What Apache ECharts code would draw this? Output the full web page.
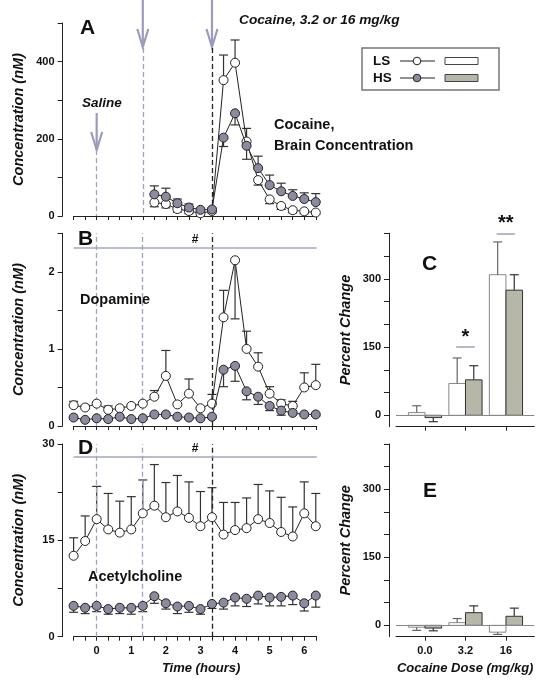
<!DOCTYPE html>
<html><head><meta charset="utf-8">
<script src="https://cdn.jsdelivr.net/npm/echarts@6/dist/echarts.min.js"></script>
<style>html,body{margin:0;padding:0;background:#fff}#c{width:547px;height:691px}</style>
</head><body><div id="c"></div>
<script>
// ---------- data ----------
const times = [-0.667,-0.333,0,0.333,0.667,1,1.333,1.667,2,2.333,2.667,3,3.333,3.667,4,4.333,4.667,5,5.333,5.667,6,6.333];
const timeLabels = [0,1,2,3,4,5,6];
const eventTimes = [0, 1.333, 3.333];

// Panel A: cocaine brain concentration (nM)
const cocLS    = [null,null,null,null,null,null,null,35,31,18,13,7,13,352,397,193,93,43,26,15,12,9];
const cocLSerr = [null,null,null,null,null,null,null,24,21,10,6,2,8,417,456,227,80,32,17,8,6,5];
const cocHS    = [null,null,null,null,null,null,null,56,50,33,22,16,17,203,266,182,124,80,64,52,44,36];
const cocHSerr = [null,null,null,null,null,null,null,78,72,44,31,20,21,180,236,147,155,106,85,68,60,58];

// Panel B: dopamine (nM)
const daLS    = [0.27,0.24,0.29,0.21,0.23,0.26,0.29,0.38,0.65,0.28,0.42,0.23,0.29,1.41,2.15,1.00,0.77,0.42,0.29,0.26,0.50,0.53];
const daLSerr = [0.32,0.27,0.31,0.26,0.25,0.28,0.31,0.46,0.98,0.30,0.61,0.25,0.41,1.76,1.39,1.23,0.95,0.51,0.34,0.32,0.69,0.80];
const daHS    = [0.11,0.08,0.10,0.09,0.12,0.09,0.10,0.15,0.15,0.12,0.11,0.10,0.12,0.73,0.78,0.45,0.38,0.26,0.20,0.17,0.15,0.15];
const daHSerr = [0.09,0.07,0.08,0.08,0.10,0.08,0.09,0.13,0.13,0.10,0.09,0.09,0.10,0.51,0.58,0.34,0.28,0.20,0.14,0.15,0.13,0.13];
const daSigLevel = 2.31;

// Panel D: acetylcholine (nM)
const achLS    = [12.6,14.9,18.3,16.7,16.2,16.7,19.2,20.4,18.6,19.5,18.5,17.2,18.6,15.9,16.6,16.9,18.3,17.7,16.3,15.6,19.2,17.2];
const achLSerr = [15.4,18.8,23.4,22.3,21.1,21.8,24.4,26.8,24.0,25.1,24.1,22.6,23.2,20.9,20.9,21.6,23.7,22.7,21.7,20.2,24.1,22.3];
const achHS    = [4.8,4.5,4.8,4.3,4.5,4.5,4.8,6.3,5.2,4.7,4.8,4.3,5.1,5.3,6.1,5.9,6.4,6.1,6.2,6.4,5.2,6.4];
const achHSerr = [3.8,3.6,3.9,3.5,3.6,3.5,3.9,5.2,4.3,3.6,3.8,3.5,4.4,4.3,4.8,4.7,5.1,4.8,4.8,5.0,4.0,4.6];
const achSigLevel = 28;

// Panels C and E: percent change by cocaine dose
const doseLabels = ['0.0','3.2','16'];
const pctDA_LS     = [6,70,309];
const pctDA_LSerr  = [21,126,381];
const pctDA_HS     = [-5,78,275];
const pctDA_HSerr  = [-14,109,309];
const pctACh_LS    = [-4,6,-15];
const pctACh_LSerr = [-11,15,-20];
const pctACh_HS    = [-6,28,20];
const pctACh_HSerr = [-12,43,38];

const concTicksA = [0,200,400];
const concTicksB = [0,1,2];
const concTicksD = [0,15,30];
const pctTickMarks = [0,50,100,150,200,250,300,350,400];
const pctTickLabels = [0,150,300];

// ---------- helpers ----------
const FONT = 'Arial, "Liberation Sans", sans-serif';
const LS_COLOR = '#ffffff', HS_COLOR = '#8b8ba0', BAR_HS = '#b6b6a9';
const GRAYDASH = '#a3a3bb', SIGLINE = '#a0a8ba', ARROW = '#9b9bbb';

function pts(xs, ys){ const o=[]; for(let i=0;i<xs.length;i++){ if(ys[i]!=null) o.push([xs[i], ys[i]]);} return o; }
function errPts(xs, ys, es){ const o=[]; for(let i=0;i<xs.length;i++){ if(ys[i]!=null) o.push([xs[i], ys[i], es[i]]);} return o; }

function errRender(color, off){
  return function(params, api){
    const x = api.value(0) + (off||0), y = api.value(1), e = api.value(2);
    const p0 = api.coord([x, y]), p1 = api.coord([x, e]);
    const hw = 4.5;
    return {type:'group', children:[
      {type:'line', shape:{x1:p0[0],y1:p0[1],x2:p1[0],y2:p1[1]}, style:{stroke:color, lineWidth:1.2}},
      {type:'line', shape:{x1:p1[0]-hw,y1:p1[1],x2:p1[0]+hw,y2:p1[1]}, style:{stroke:color, lineWidth:1.2}}
    ]};
  };
}
function barRender(off, fill, stroke){
  return function(params, api){
    const i = api.value(0), v = api.value(1);
    const a = api.coord([i+off-0.205, 0]), b = api.coord([i+off+0.205, v]);
    return {type:'rect', shape:{x:a[0], y:Math.min(a[1],b[1]), width:b[0]-a[0], height:Math.max(1,Math.abs(b[1]-a[1]))},
            style:{fill:fill, stroke:stroke, lineWidth:1}};
  };
}
function lineSeries(name, xi, yi, data, fill, extra){
  return Object.assign({
    type:'line', name:name, xAxisIndex:xi, yAxisIndex:yi, data:data,
    symbol:'circle', symbolSize:9, showSymbol:true,
    lineStyle:{color:'#222', width:1},
    itemStyle:{color:fill, borderColor:'#222', borderWidth:1},
    animation:false, silent:true, clip:false, z:5
  }, extra||{});
}
function errSeries(xi, yi, data, color, off){
  return {type:'custom', xAxisIndex:xi, yAxisIndex:yi, data:data, renderItem:errRender(color, off),
          encode:{x:0, y:[1,2]}, animation:false, silent:true, clip:false, z:3};
}
function vline(x, color){
  return {xAxis:x, lineStyle:{color:color, type:[5,3], width:1.3}};
}
function vseg(x, y0, y1, color){
  return [{coord:[x,y0], lineStyle:{color:color, type:[5,3], width:1.3}}, {coord:[x,y1]}];
}
function hsig(x0, x1, y, text, size, dist){
  return [{coord:[x0,y], lineStyle:{color:SIGLINE, type:'solid', width:1.6},
           label:{show:true, formatter:text, position:'middle', distance:dist, fontSize:size, fontWeight:'bold', color:'#111', fontFamily:FONT}},
          {coord:[x1,y]}];
}
const NAME_STYLE = {fontSize:14.5, fontWeight:'bold', fontStyle:'italic', color:'#111', fontFamily:FONT};
const thirds = times;
function timeAxis(gi, showLabels){
  return {type:'value', gridIndex:gi, min:-0.667, max:6.36,
    axisLine:{show:true, onZero:false, lineStyle:{color:'#222', width:1}},
    axisTick:{show:true, customValues:thirds, length:4, inside:false, lineStyle:{color:'#222'}},
    axisLabel:{show:showLabels, customValues:timeLabels, margin:9, fontSize:11, fontWeight:'bold', color:'#111', fontFamily:FONT},
    splitLine:{show:false},
    name: showLabels ? 'Time (hours)' : '', nameLocation:'middle', nameGap:25,
    nameTextStyle:{fontSize:13, fontWeight:'bold', fontStyle:'italic', color:'#111', fontFamily:FONT, padding:[0,0,0,12]}
  };
}
function concAxis(gi, max, interval, labels){
  return {type:'value', gridIndex:gi, min:0, max:max, interval:interval, offset:11,
    axisLine:{show:true, onZero:false, lineStyle:{color:'#222', width:1}},
    axisTick:{show:true, length:5, lineStyle:{color:'#222'}},
    axisLabel:{margin:8, fontSize:11, fontWeight:'bold', color:'#111', fontFamily:FONT,
      formatter:function(v){ return labels.some(function(l){return Math.abs(l-v)<1e-6;}) ? String(v) : ''; }},
    splitLine:{show:false},
    name:'Concentration (nM)', nameLocation:'middle', nameGap:36,
    nameTextStyle:NAME_STYLE
  };
}
function doseAxis(gi, showLabels){
  return {type:'value', gridIndex:gi, min:-0.716, max:2.70,
    axisLine:{show:true, onZero:false, lineStyle:{color:'#222', width:1}},
    axisTick:{show:true, customValues:[0,1,2], length:4, lineStyle:{color:'#222'}},
    axisLabel:{show:showLabels, customValues:[0,1,2], margin:9, fontSize:11, fontWeight:'bold', color:'#111', fontFamily:FONT,
      formatter:function(v){ return doseLabels[Math.round(v)]; }},
    splitLine:{show:false},
    name: showLabels ? 'Cocaine Dose (mg/kg)' : '', nameLocation:'middle', nameGap:25,
    nameTextStyle:{fontSize:13, fontWeight:'bold', fontStyle:'italic', color:'#111', fontFamily:FONT}
  };
}
function pctAxis(gi){
  return {type:'value', gridIndex:gi, min:-25, max:400, offset:7,
    axisLine:{show:true, onZero:false, lineStyle:{color:'#222', width:1}},
    axisTick:{show:true, customValues:pctTickMarks, length:5, lineStyle:{color:'#222'}},
    axisLabel:{customValues:pctTickLabels, margin:8, fontSize:11, fontWeight:'bold', color:'#111', fontFamily:FONT},
    splitLine:{show:false},
    name:'Percent Change', nameLocation:'middle', nameGap:36,
    nameTextStyle:NAME_STYLE
  };
}
function barSeries(xi, yi, vals, off, fill, stroke, extra){
  return Object.assign({type:'custom', xAxisIndex:xi, yAxisIndex:yi,
    data: vals.map(function(v,i){return [i, v];}), renderItem:barRender(off, fill, stroke),
    encode:{x:0, y:1}, animation:false, silent:true, z:2}, extra||{});
}
function barErr(xi, yi, vals, errs, off, color){
  return errSeries(xi, yi, vals.map(function(v,i){return [i, v, errs[i]];}), color, off);
}
const zeroLine = {silent:true, symbol:'none', animation:false, label:{show:false},
  data:[{yAxis:0, lineStyle:{color:'#888', type:'solid', width:1.2}}]};

const option = {
  backgroundColor:'#fff',
  animation:false,
  grid:[
    {left:73.6, top:23,    width:243.1, height:193},
    {left:73.6, top:233.3, width:243.1, height:192.7},
    {left:73.6, top:444,   width:243.1, height:192.7},
    {left:396,  top:233.3, width:138.3, height:193.4},
    {left:396,  top:444,   width:138.3, height:192.7}
  ],
  xAxis:[ timeAxis(0,false), timeAxis(1,false), timeAxis(2,true), doseAxis(3,false), doseAxis(4,true) ],
  yAxis:[ concAxis(0,500,100,concTicksA), concAxis(1,2.5,0.5,concTicksB), concAxis(2,30,7.5,concTicksD), pctAxis(3), pctAxis(4) ],
  series:[
    // Panel A
    errSeries(0,0, errPts(times,cocLS,cocLSerr), '#333'),
    errSeries(0,0, errPts(times,cocHS,cocHSerr), '#333'),
    lineSeries('LS',0,0, pts(times,cocLS), LS_COLOR, {markLine:{silent:true, symbol:'none', animation:false, label:{show:false},
      data:[ vseg(eventTimes[0],171,0,GRAYDASH), vseg(eventTimes[1],435,0,GRAYDASH), vseg(eventTimes[2],435,0,'#222') ]}}),
    lineSeries('HS',0,0, pts(times,cocHS), HS_COLOR, {z:6}),
    // Panel B
    errSeries(1,1, errPts(times,daLS,daLSerr), '#333'),
    errSeries(1,1, errPts(times,daHS,daHSerr), '#333'),
    lineSeries('LS',1,1, pts(times,daLS), LS_COLOR, {markLine:{silent:true, symbol:'none', animation:false, label:{show:false},
      data:[ vline(eventTimes[0],GRAYDASH), vline(eventTimes[1],GRAYDASH), vline(eventTimes[2],'#222'),
             hsig(-0.667, 6.36, daSigLevel, '#', 12, 2) ]}}),
    lineSeries('HS',1,1, pts(times,daHS), HS_COLOR, {z:6}),
    // Panel D
    errSeries(2,2, errPts(times,achLS,achLSerr), '#333'),
    errSeries(2,2, errPts(times,achHS,achHSerr), '#333'),
    lineSeries('LS',2,2, pts(times,achLS), LS_COLOR, {markLine:{silent:true, symbol:'none', animation:false, label:{show:false},
      data:[ vline(eventTimes[0],GRAYDASH), vline(eventTimes[1],GRAYDASH), vline(eventTimes[2],'#222'),
             hsig(-0.667, 6.36, achSigLevel, '#', 12, 2) ]}}),
    lineSeries('HS',2,2, pts(times,achHS), HS_COLOR, {z:6}),
    // Panel C
    barSeries(3,3, pctDA_LS, -0.205, '#ffffff', '#888'),
    barSeries(3,3, pctDA_HS, 0.205, BAR_HS, '#333', {markLine:{silent:true, symbol:'none', animation:false,
      data:[ {yAxis:0, lineStyle:{color:'#888', type:'solid', width:1.2}, label:{show:false}},
             hsig(0.77, 1.23, 150, '*', 20, 0), hsig(1.77, 2.22, 400, '**', 20, 0) ]}}),
    barErr(3,3, pctDA_LS, pctDA_LSerr, -0.205, '#666'),
    barErr(3,3, pctDA_HS, pctDA_HSerr, 0.205, '#333'),
    // Panel E
    barSeries(4,4, pctACh_LS, -0.205, '#ffffff', '#888'),
    barSeries(4,4, pctACh_HS, 0.205, BAR_HS, '#333', {markLine:zeroLine}),
    barErr(4,4, pctACh_LS, pctACh_LSerr, -0.205, '#666'),
    barErr(4,4, pctACh_HS, pctACh_HSerr, 0.205, '#333')
  ]
};

const chart = echarts.init(document.getElementById('c'), null, {renderer:'canvas', width:547, height:691});
chart.setOption(option);

// ---------- annotations ----------
function px(gi, x, y){ return chart.convertToPixel({gridIndex:gi}, [x, y]); }
function txt(x, y, s, font, align){
  return {type:'text', x:x, y:y, silent:true, z:10,
    style:{text:s, font:font, fill:'#111', textAlign:align||'left', textVerticalAlign:'middle'}};
}
function arrow(x, y0, y1){
  return {type:'group', silent:true, z:10, children:[
    {type:'line', shape:{x1:x,y1:y0,x2:x,y2:y1}, style:{stroke:ARROW, lineWidth:2.2}},
    {type:'polyline', shape:{points:[[x-5.5,y1-18],[x,y1],[x+5.5,y1-18]]}, style:{stroke:ARROW, lineWidth:2.2, fill:null}}
  ]};
}
const BIG = 'bold 21px ' + FONT, MID = 'bold 14.5px ' + FONT, LEG = 'bold 13.5px ' + FONT, MIDI = 'italic bold 13.7px ' + FONT;
const xs0 = px(0, eventTimes[0], 0)[0], xs1 = px(0, eventTimes[1], 0)[0], xs2 = px(0, eventTimes[2], 0)[0];
const gfx = [
  txt(80, 28, 'A', BIG), txt(78, 239, 'B', BIG), txt(78, 448, 'D', BIG),
  txt(422, 264, 'C', BIG), txt(423, 491, 'E', BIG),
  txt(82, 103, 'Saline', 'italic bold 13.5px ' + FONT),
  txt(239, 20, 'Cocaine, 3.2 or 16 mg/kg', MIDI),
  txt(274, 125, 'Cocaine,', MID), txt(274, 146, 'Brain Concentration', MID),
  txt(80, 300, 'Dopamine', MID), txt(88, 577, 'Acetylcholine', MID),
  arrow(xs0, 113, 150), arrow(xs1, 0, 47), arrow(xs2, 0, 47),
  // legend
  {type:'rect', shape:{x:362, y:48, width:137, height:42}, style:{fill:'#fff', stroke:'#777', lineWidth:1.5}, silent:true, z:9},
  txt(373, 61, 'LS', LEG), txt(373, 78, 'HS', LEG),
  {type:'line', shape:{x1:400,y1:61,x2:435,y2:61}, style:{stroke:'#222', lineWidth:1}, z:10, silent:true},
  {type:'circle', shape:{cx:417,cy:61,r:3.8}, style:{fill:'#fff', stroke:'#222', lineWidth:1}, z:11, silent:true},
  {type:'line', shape:{x1:400,y1:78,x2:435,y2:78}, style:{stroke:'#222', lineWidth:1}, z:10, silent:true},
  {type:'circle', shape:{cx:417,cy:78,r:3.8}, style:{fill:HS_COLOR, stroke:'#222', lineWidth:1}, z:11, silent:true},
  {type:'rect', shape:{x:445,y:57.5,width:33,height:7}, style:{fill:'#fff', stroke:'#444', lineWidth:1}, z:10, silent:true},
  {type:'rect', shape:{x:445,y:74.5,width:33,height:7}, style:{fill:BAR_HS, stroke:'#444', lineWidth:1}, z:10, silent:true}
];
chart.setOption({graphic:gfx});
</script></body></html>
